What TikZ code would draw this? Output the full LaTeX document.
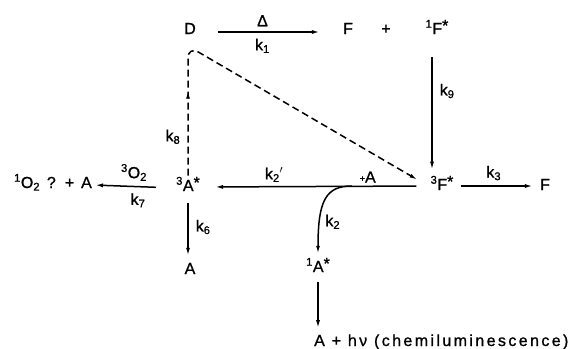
\documentclass[tikz,border=0pt]{standalone}
\usepackage{fontspec}
\setmainfont[LetterSpace=15, FakeBold=1]{Liberation Sans}
\usetikzlibrary{arrows.meta, positioning, decorations.markings}

\newcommand{\exc}[2]{\textsuperscript{#1}#2\raisebox{3pt}{*}}

\begin{document}
\begin{tikzpicture}[x=1pt, y=-1pt,
  sp/.style={anchor=base, inner sep=1pt, font=\fontsize{16}{18}\selectfont},
  lbl/.style={inner sep=1pt, font=\fontsize{16}{18}\selectfont},
  rx/.style={-{Latex[length=8pt,width=4pt]}, line width=1.5pt},
  dsh/.style={line width=1.5pt, dash pattern=on 7pt off 4pt},
]
  \useasboundingbox (0,0) rectangle (583,348);

  % species
  \node[sp] (D) at (190,34) {D};
  \node[sp] (F1) at (348,34) {F};
  \node[sp] (plus) at (386,34) {+};
  \node[sp] (F1s) at (437,34) {\exc{1}{F}};
  \node[sp] (F3) at (442,190) {\exc{3}{F}};
  \node[sp] (F2) at (545,190) {F};
  \node[sp] (A3) at (188,191) {\exc{3}{A}};
  \node[sp] (A6) at (190,274) {A};
  \node[sp, anchor=base east] (O2) at (93,188) {\textsuperscript{1}O\textsubscript{2} ? + A};
  \node[sp] (A1) at (318,272) {\exc{1}{A}};
  \node[sp, anchor=base west] (hv) at (313,346) {A + hν (chemiluminescence)};
  \coordinate (bend) at (188,46);
  \coordinate (br) at (352,186);

  % reactions
  \draw[rx, shorten <=21pt, shorten >=22pt] ([yshift=2pt]D.base east) -- node[lbl, above=4pt, xshift=-7pt] {Δ} node[lbl, below=5pt, xshift=-7pt] {k\textsubscript{1}} ([yshift=2pt]F1.base west);
  \draw[rx, shorten <=22pt, shorten >=5pt] ([xshift=-5pt]F1s.south) -- node[lbl, right=6pt, pos=0.4] {k\textsubscript{9}} ([xshift=-10pt]F3.north);
  \draw[rx, shorten <=6pt, shorten >=6pt] ([yshift=4pt]F3.base east) -- node[lbl, above=4pt, xshift=-3pt] {k\textsubscript{3}} ([yshift=4pt]F2.base west);
  \draw[rx, shorten <=13pt, shorten >=14pt] ([yshift=4pt]F3.base west) -- node[lbl, above=3pt, pos=0.68] {k\textsubscript{2}$'$} node[lbl, above=2pt, pos=0.27] {\raisebox{1pt}{\fontsize{9}{9}\selectfont+}A} ([yshift=4pt]A3.base west -| A3.base east);
  \draw[rx, shorten >=3pt] (br) .. controls (326,186) and (318,200) .. node[lbl, right=4pt, pos=0.75] {k\textsubscript{2}} (A1.north);
  \draw[rx, shorten <=11pt, shorten >=6pt] (A3.south) -- node[lbl, right=6pt] {k\textsubscript{6}} (A3.south |- A6.north);
  \draw[rx, shorten <=19pt, shorten >=2pt] ([yshift=3pt]A3.base west) -- node[lbl, above=4pt] {\textsuperscript{3}O\textsubscript{2}} node[lbl, below=5pt, xshift=4pt] {k\textsubscript{7}} ([yshift=3pt]O2.base east);
  \draw[rx, shorten <=9pt, shorten >=5pt] (A1.south) -- (A1.south |- hv.north);
  % energy transfer
  \draw[dsh, rounded corners=12pt, -{Latex[length=8pt,width=4pt]},
    postaction={decorate, decoration={markings, mark=at position 0.22 with {\arrow[solid]{Latex[length=8pt,width=4pt]}}}}]
    (A3.north) -- node[lbl, left=6pt, pos=0.3] {k\textsubscript{8}} (bend) -- ([xshift=-12pt, yshift=-5pt]F3.north west);
\end{tikzpicture}
\end{document}
